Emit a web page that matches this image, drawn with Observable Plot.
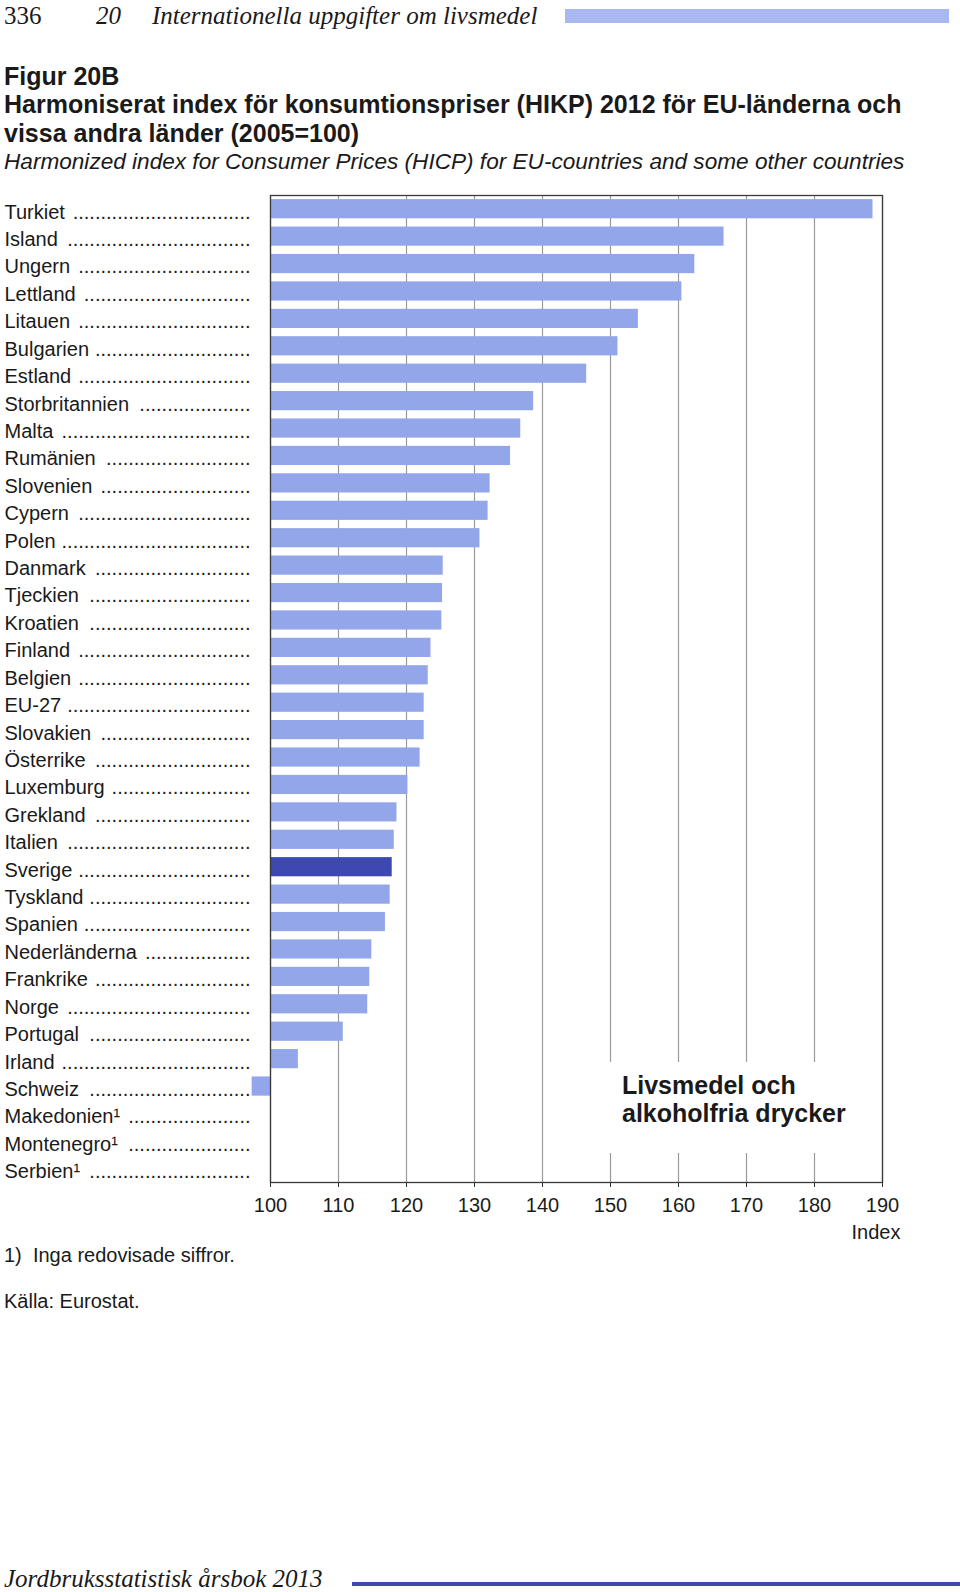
<!DOCTYPE html>
<html>
<head>
<meta charset="utf-8">
<script src="https://cdn.jsdelivr.net/npm/d3@7"></script>
<script src="https://cdn.jsdelivr.net/npm/@observablehq/plot@0.6"></script>
<style>
  body { margin: 0; background: #fff; }
  #page { position: relative; width: 960px; height: 1592px; overflow: hidden; background: #fff; color: #1a1a1a;
          font-family: "Liberation Sans", Arial, sans-serif; }
  .t { position: absolute; white-space: pre; line-height: 1; }
  #chart { position: absolute; left: 0; top: 180px; }
</style>
</head>
<body>
<div id="page"><div id="chart"></div></div>
<script>
// ---- data ----
const countries = ["Turkiet","Island","Ungern","Lettland","Litauen","Bulgarien","Estland","Storbritannien","Malta","Rumänien",
  "Slovenien","Cypern","Polen","Danmark","Tjeckien","Kroatien","Finland","Belgien","EU-27","Slovakien","Österrike",
  "Luxemburg","Grekland","Italien","Sverige","Tyskland","Spanien","Nederländerna","Frankrike","Norge","Portugal",
  "Irland","Schweiz","Makedonien","Montenegro","Serbien"];
const values = [188.6,166.7,162.4,160.5,154.1,151.1,146.5,138.7,136.8,135.3,
  132.3,132.0,130.8,125.4,125.3,125.2,123.6,123.2,122.6,122.6,122.0,
  120.2,118.6,118.2,117.9,117.6,116.9,114.9,114.6,114.3,110.7,
  104.1,97.3,null,null,null];
const noData = ["Makedonien","Montenegro","Serbien"];
const highlight = "Sverige";
const baseIndex = 100;
const xTicks = [100,110,120,130,140,150,160,170,180,190];
const xDomain = [100,190];

const lightBlue = "#94A6EA";
const darkBlue = "#3E48B1";

// ---- helpers ----
const page = document.getElementById("page");
const SANS = '"Liberation Sans", Arial, sans-serif';
const SERIF = '"Liberation Serif", "Times New Roman", serif';
function place(text, x, baseline, size, opts = {}) {
  const fam = opts.family || SANS;
  const k = fam === SERIF ? 0.8375 : 0.8465;
  const d = document.createElement("div");
  d.className = "t";
  d.textContent = text;
  d.style.left = x + "px";
  d.style.top = (baseline - k * size) + "px";
  d.style.fontSize = size + "px";
  d.style.fontFamily = fam;
  d.style.fontWeight = opts.weight || "normal";
  d.style.fontStyle = opts.style || "normal";
  if (opts.color) d.style.color = opts.color;
  page.appendChild(d);
  return d;
}
function box(x, y, w, h, bg) {
  const d = document.createElement("div");
  Object.assign(d.style, {position: "absolute", left: x + "px", top: y + "px", width: w + "px", height: h + "px", background: bg});
  page.appendChild(d);
  return d;
}

// ---- header ----
place("336", 4, 24, 25, {family: SERIF});
place("20", 96, 24, 25, {family: SERIF, style: "italic"});
place("Internationella uppgifter om livsmedel", 152, 24, 25, {family: SERIF, style: "italic"});
box(565, 9, 384, 14, "#A9B8F1");

// ---- titles ----
place("Figur 20B", 4, 85, 25, {weight: "bold"});
place("Harmoniserat index för konsumtionspriser (HIKP) 2012 för EU-länderna och", 4, 113.5, 25, {weight: "bold"});
place("vissa andra länder (2005=100)", 4, 142, 25, {weight: "bold"});
place("Harmonized index for Consumer Prices (HICP) for EU-countries and some other countries", 4, 170, 22.6, {style: "italic"});

// ---- chart ----
const fontSize = 20;
const rows = countries.map((c, i) => ({country: c, label: c + (noData.includes(c) ? "\u00B9" : ""), value: values[i]}));
const barRows = rows.filter(d => d.value != null);

const ctx = document.createElement("canvas").getContext("2d");
ctx.font = `${fontSize}px "Liberation Sans"`;
const dotW = ctx.measureText(".").width;
function dots(label) {
  const w = ctx.measureText(label + " ").width;
  const n = Math.floor((246 - w) / dotW);
  return ".".repeat(Math.max(0, n));
}

const chart = Plot.plot({
  width: 960,
  height: 1072,
  marginTop: 15,
  marginLeft: 270,
  marginRight: 78,
  marginBottom: 70,
  style: {fontFamily: SANS, fontSize: fontSize + "px", color: "#1a1a1a", background: "transparent", overflow: "visible"},
  x: {domain: xDomain},
  y: {domain: countries, paddingInner: 0.3, paddingOuter: 0.15, round: false, axis: null},
  marks: [
    Plot.gridX(xTicks, {stroke: "#9a9a9a", strokeOpacity: 1, strokeWidth: 1.2}),
    Plot.barX(barRows, {x1: () => baseIndex, x2: "value", y: "country",
      fill: d => d.country === highlight ? darkBlue : lightBlue}),
    Plot.frame({stroke: "#3a3a3a", strokeWidth: 1.3}),
    Plot.axisX({ticks: xTicks, tickSize: 5, tickPadding: 10.5, tickFormat: d => String(d),
      stroke: "#333", fill: "#1a1a1a", label: null}),
    Plot.text(rows, {y: "country", text: "label", frameAnchor: "left", textAnchor: "start", dx: -266, dy: 3, fill: "#1a1a1a"}),
    Plot.text(rows, {y: "country", text: d => dots(d.label), frameAnchor: "left", textAnchor: "end", dx: -20, dy: 3, fill: "#1a1a1a"}),
    Plot.text(["Index"], {frameAnchor: "bottom-right", textAnchor: "end", lineAnchor: "middle", dx: 18, dy: 50, fill: "#1a1a1a"})
  ]
});
document.getElementById("chart").appendChild(chart);

// ---- in-chart annotation ----
box(602, 1062, 276, 91, "#fff");
place("Livsmedel och", 622, 1094, 25, {weight: "bold"});
place("alkoholfria drycker", 622, 1122, 25, {weight: "bold"});

// ---- notes ----
place("1)  Inga redovisade siffror.", 4, 1262, 20);
place("Källa: Eurostat.", 4, 1308, 20);

// ---- footer ----
place("Jordbruksstatistisk årsbok 2013", 4, 1587, 25, {family: SERIF, style: "italic"});
box(352, 1582, 608, 4, "#3F4AA8");
</script>
</body>
</html>
